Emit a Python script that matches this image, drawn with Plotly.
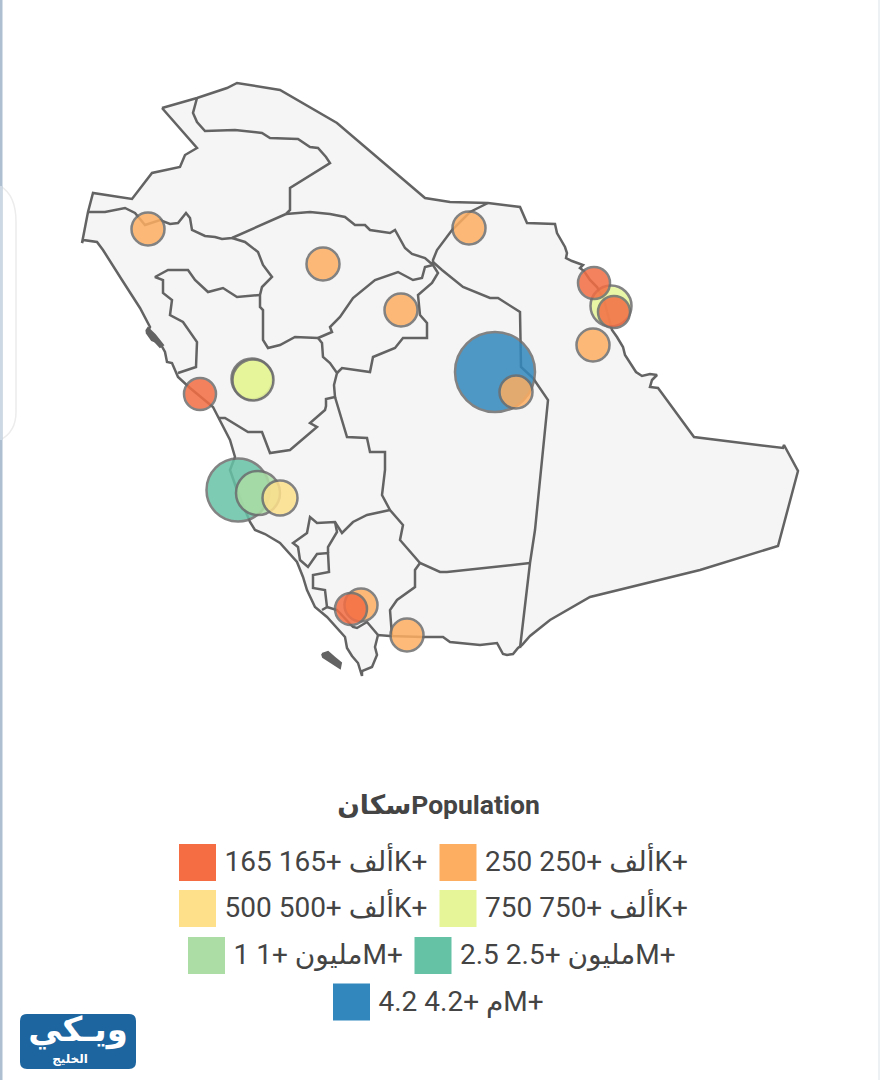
import plotly.graph_objects as go

# ---- outline of the country and of its regions (axis units = image pixels)
outer_border = [(162,108),(197,98),(227,88),(237,83),(280,90),(337,123),(425,198),(450,202),(488,203),(520,207),(527,223),(555,224),(557,233),(561,240),(565,247),(567,253),(566,258),(572,261),(583,265),(580,268),(584,271),(590,280),(597,287),(604,300),(612,330),(617,337),(623,347),(625,355),(630,363),(636,372),(642,376),(650,374),(657,375),(652,380),(650,387),(658,388),(661,392),(694,437),(783,448),(784,445),(798,471),(782,530),(778,546),(700,570),(620,590),(590,597),(550,620),(530,636),(522,645),(518,648),(513,654),(507,655),(503,654),(497,643),(480,645),(450,642),(443,637),(423,637),(390,636),(378,635),(375,647),(377,655),(372,667),(362,671),(362,676),(358,663),(352,656),(347,648),(345,637),(327,617),(315,607),(307,590),(303,577),(297,562),(280,543),(265,534),(255,530),(250,522),(243,505),(237,490),(230,470),(235,457),(230,440),(220,420),(213,407),(190,388),(178,377),(172,363),(167,362),(165,352),(160,343),(152,340),(147,333),(150,327),(140,308),(122,280),(103,250),(97,242),(83,240),(82,243),(88,212),(93,193),(132,199),(152,173),(180,167),(185,155),(197,148),(162,108)]
north_borders = [(197,98),(193,113),(197,122),(205,131),(235,130),(262,133),(270,138),(298,139),(310,147),(318,148),(326,157),(330,163),(290,188),(290,210),(286,214),(310,212),(330,214),(345,217),(355,225),(365,225),(370,230),(390,233),(395,230),(405,248),(412,254),(425,258),(433,265),(433,260),(437,250),(452,230),(470,212),(488,203)]
tabuk_south = [(88,212),(105,212),(125,208),(135,213),(145,225),(160,220),(170,224),(178,223),(186,213),(190,218),(192,230),(205,236),(215,237),(222,239),(232,238),(286,214)]
hail_west = [(232,238),(245,242),(258,252),(263,265),(272,277),(262,287),(260,295),(260,307),(263,310),(263,340),(268,348),(280,345),(295,337),(318,338)]
medina_north = [(178,373),(196,367),(197,342),(183,322),(170,315),(172,300),(163,293),(163,280),(155,277),(168,270),(188,270),(195,280),(208,292),(223,288),(237,297),(260,295)]
qassim = [(318,338),(332,332),(330,327),(340,317),(353,298),(375,280),(398,272),(413,280),(422,278),(425,267),(433,265),(438,273),(432,283),(418,295),(420,315),(427,323),(427,338),(403,338),(395,348),(373,357),(370,372),(342,368),(337,373)]
medina_east = [(318,338),(322,343),(323,357),(330,363),(337,373),(334,385),(335,397),(326,399),(326,406),(325,410),(310,423),(317,427),(290,450),(270,453),(262,432),(248,432),(225,418),(218,418)]
riyadh_west = [(335,397),(347,437),(367,438),(370,452),(385,452),(385,470),(382,495),(390,510),(403,525),(400,540),(420,563),(440,572),(447,572),(530,563)]
eastern_line = [(433,262),(442,270),(463,287),(490,298),(498,298),(520,312),(521,367),(533,378),(548,400),(535,530),(530,563),(520,648)]
makkah_south = [(390,510),(367,515),(353,522),(342,533),(335,522),(317,523),(310,517),(307,533),(293,543),(298,547),(300,560),(308,567),(317,554),(328,553),(329,572),(313,575),(313,588),(325,590),(327,607),(322,610)]
baha_east = [(335,522),(337,532),(328,547),(328,553)]
jazan_line = [(327,607),(337,610),(353,627),(357,628),(367,622),(378,635)]
najran_line = [(420,563),(415,570),(415,587),(397,600),(390,610),(392,636)]
farasan = [(322,654),(328,652),(335,658),(341,663),(340,668),(330,662),(323,657),(322,654)]
coast_islands = [(146,331),(150,336),(160,347),(163,345),(155,335),(148,328),(146,331)]
inner_borders = [north_borders, tabuk_south, hail_west, medina_north, qassim, medina_east,
                 riyadh_west, eastern_line, makkah_south, baha_east, jazan_line, najran_line]

# ---- population bubbles
city_x = [495, 238, 258, 280, 611, 252, 253, 148, 323, 401, 469, 593, 516, 361, 407, 594, 614, 200, 351]
city_y = [372, 490, 493, 498, 306, 379, 380, 229, 264, 310, 228, 345, 392, 605, 635, 283, 312, 394, 609]
city_tier = ["4.2M", "2.5M", "1M", "500K", "750K", "750K", "750K", "250K", "250K", "250K", "250K", "250K",
             "250K", "250K", "250K", "165K", "165K", "165K", "165K"]
tier_names = ["165K", "250K", "500K", "750K", "1M", "2.5M", "4.2M"]
tier_colors = ["#f46d43", "#fdae61", "#fee08b", "#e6f598", "#abdda4", "#66c2a5", "#3288bd"]
tier_diameters = [32, 33, 35, 41, 44, 63, 80]

# ---- legend
legend_title = "سكانPopulation"
legend_labels = ["165 165+ ألفK+", "250 250+ ألفK+", "500 500+ ألفK+", "750 750+ ألفK+",
                 "1 1+ مليونM+", "2.5 2.5+ مليونM+", "4.2 4.2+ مM+"]
legend_x = [197.5, 458, 197.5, 458, 206.5, 433, 351.5]
legend_y = [862.5, 862.5, 908.5, 908.5, 955.5, 955.5, 1002]

logo_main = "ويـكي"
logo_sub = "الخليج"

fig = go.Figure()
LINE = "#636363"


def xs(p):
    return [a for a, _ in p]


def ys(p):
    return [b for _, b in p]


fig.add_trace(go.Scatter(x=xs(outer_border), y=ys(outer_border), mode="lines", fill="toself",
                         fillcolor="#f5f5f6", line=dict(color=LINE, width=2.5), hoverinfo="skip"))
for isl in (farasan, coast_islands):
    fig.add_trace(go.Scatter(x=xs(isl), y=ys(isl), mode="lines", fill="toself",
                             fillcolor=LINE, line=dict(color=LINE, width=2), hoverinfo="skip"))
for b in inner_borders:
    fig.add_trace(go.Scatter(x=xs(b), y=ys(b), mode="lines",
                             line=dict(color=LINE, width=2.5), hoverinfo="skip"))

idx = [tier_names.index(t) for t in city_tier]
fig.add_trace(go.Scatter(
    x=city_x, y=city_y, mode="markers", hoverinfo="skip",
    marker=dict(size=[tier_diameters[i] for i in idx], sizemode="diameter",
                color=[tier_colors[i] for i in idx], opacity=0.85,
                line=dict(color="#6e6e6e", width=2.5))))

# legend
fig.add_trace(go.Scatter(x=legend_x, y=legend_y, mode="markers", hoverinfo="skip",
                         marker=dict(symbol="square", size=37, color=tier_colors, line=dict(width=0))))
fig.add_trace(go.Scatter(x=[v + 27 for v in legend_x], y=[v + 1.5 for v in legend_y], mode="text", text=legend_labels,
                         textposition="middle right", hoverinfo="skip",
                         textfont=dict(family="Roboto, 'DejaVu Sans', sans-serif", size=28, color="#444444")))
fig.add_trace(go.Scatter(x=[438.5], y=[807], mode="text", text=["<b>" + legend_title + "</b>"],
                         textposition="middle center", hoverinfo="skip",
                         textfont=dict(family="Roboto, 'DejaVu Sans', sans-serif", size=26.5, color="#444444")))
# logo text
fig.add_trace(go.Scatter(x=[78, 70], y=[1032, 1060], mode="text", text=["<b>" + logo_main + "</b>", "<b>" + logo_sub + "</b>"],
                         textposition="middle center", hoverinfo="skip",
                         textfont=dict(family="'DejaVu Sans', sans-serif", size=[34, 12], color="#ffffff")))

fig.update_layout(
    width=880, height=1080, margin=dict(l=0, r=0, t=0, b=0), showlegend=False,
    paper_bgcolor="#ffffff", plot_bgcolor="#ffffff",
    xaxis=dict(range=[0, 880], visible=False, fixedrange=True),
    yaxis=dict(range=[1080, 0], visible=False, fixedrange=True),
    shapes=[
        dict(type="path", layer="below", xref="x", yref="y",
             path="M0,186 Q16,195 16,222 L16,412 Q16,432 0,440 Z",
             fillcolor="#ffffff", line=dict(color="#ececec", width=1.5)),
        dict(type="rect", layer="below", x0=0, x1=2.5, y0=0, y1=1080, fillcolor="#aebfd1", line=dict(width=0)),
        dict(type="rect", layer="below", x0=0, x1=2.5, y0=186, y1=440, fillcolor="#ccd8e3", line=dict(width=0)),
        dict(type="rect", layer="below", x0=878, x1=880, y0=0, y1=1080, fillcolor="#eef1f4", line=dict(width=0)),
        dict(type="path", layer="below", xref="x", yref="y",
             path="M27,1014 L129,1014 Q136,1014 136,1021 L136,1062 Q136,1069 129,1069 L27,1069 Q20,1069 20,1062 L20,1021 Q20,1014 27,1014 Z",
             fillcolor="#1c659f", line=dict(width=0)),
    ],
)
fig.write_html("out.html", config={"displayModeBar": False},
               post_script="document.body.style.margin='0';document.body.style.overflow='hidden';")
